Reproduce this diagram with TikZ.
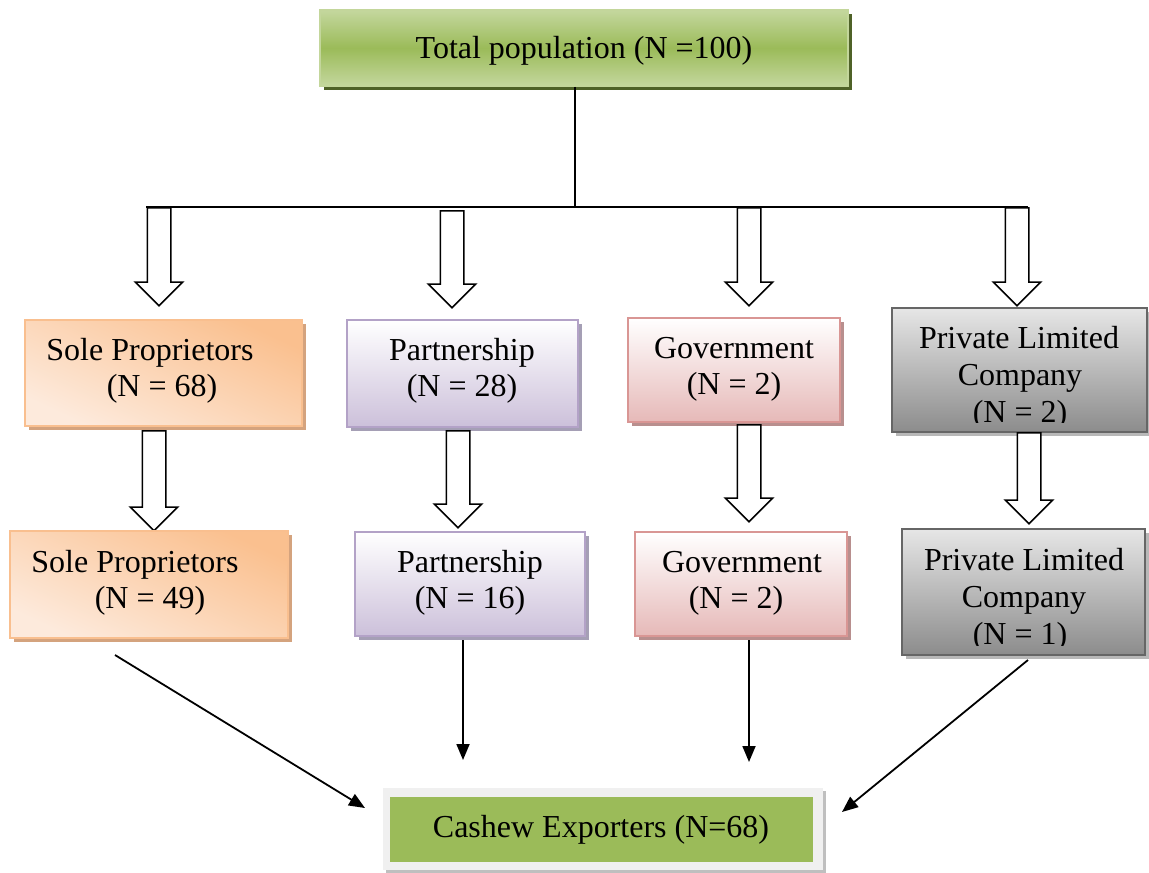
\documentclass[tikz,border=0pt]{standalone}
\usepackage{fontspec}
\setmainfont{Liberation Serif}
\usetikzlibrary{shapes.arrows,arrows.meta,shadows,calc}
\definecolor{orB}{HTML}{F9BF8F}\definecolor{orT}{HTML}{FAC08F}\definecolor{orL}{HTML}{FDEADC}\definecolor{orS}{HTML}{D4A37E}
\definecolor{puB}{HTML}{B3A2C7}\definecolor{puL}{HTML}{CCC0DA}\definecolor{puS}{HTML}{A59FB5}
\definecolor{reB}{HTML}{D99694}\definecolor{reL}{HTML}{E6B9B8}\definecolor{reS}{HTML}{B88F8E}
\definecolor{grB}{HTML}{666666}\definecolor{grT}{HTML}{E6E6E6}\definecolor{grL}{HTML}{8C8C8C}\definecolor{grS}{HTML}{B8B8B8}
\definecolor{gnB}{HTML}{C3D69B}\definecolor{gnM}{HTML}{9BBB59}\definecolor{gnL}{HTML}{C4D79E}\definecolor{gnS}{HTML}{4F6228}
\begin{document}
\begin{tikzpicture}[x=1pt,y=-1pt,
 txt/.style={font=\fontsize{32}{37}\selectfont, inner sep=0pt, anchor=base},
 box/.style={rectangle, line width=1.5pt, inner sep=0pt},
 orbox/.style={box, draw=orB, top color=orT, bottom color=orL, shading angle=-25, drop shadow={shadow xshift=4pt, shadow yshift=-4pt, fill=orS, opacity=1}},
 pubox/.style={box, draw=puB, top color=white, bottom color=puL, drop shadow={shadow xshift=4pt, shadow yshift=-4pt, fill=puS, opacity=1}},
 rebox/.style={box, draw=reB, top color=white, bottom color=reL, drop shadow={shadow xshift=4pt, shadow yshift=-4pt, fill=reS, opacity=1}},
 grbox/.style={box, draw=grB, top color=grT, bottom color=grL, drop shadow={shadow xshift=4pt, shadow yshift=-4pt, fill=grS, opacity=1}},
 blockarrow/.style={single arrow, draw=black, fill=white, line width=1.5pt, shape border rotate=270, inner sep=11pt, single arrow head extend=12pt, single arrow tip angle=90, single arrow head indent=0pt, anchor=tail},
 conn/.style={line width=1.8pt, -{Triangle[length=16pt,width=13pt]}},
 bus/.style={line width=1.8pt},
]
\useasboundingbox (0,0) rectangle (1149,873);

% top box
\node[box, draw=gnB, top color=gnL, bottom color=gnL, middle color=gnM, minimum width=528pt, minimum height=76pt,
      drop shadow={shadow xshift=4pt, shadow yshift=-4pt, fill=gnS, opacity=1}] (T) at (584,48) {};
\node[txt] (Tt) at (584,58) {Total population (N =100)};

% bus
\coordinate (busC) at (575,207);
\coordinate (busL) at (146,207);
\coordinate (busR) at (1028,207);
\draw[bus] (busC |- T.south) -- (busC);
\draw[bus] (busL) -- (busR);

% first-row block arrows
\node[blockarrow, minimum height=98pt] (a1) at (159,207) {};
\node[blockarrow, minimum height=97pt] (a2) at (452,210) {};
\node[blockarrow, minimum height=98pt] (a3) at (749,207) {};
\node[blockarrow, minimum height=98pt] (a4) at (1017,207) {};

% row 1 boxes
\node[orbox, minimum width=277pt, minimum height=106pt] (S1) at (163.5,373) {};
\node[txt] (S1a) at (150,360.5) {Sole Proprietors};
\node[txt] (S1b) at (162,396.5) {(N = 68)};

\node[pubox, minimum width=231pt, minimum height=107pt] (P1) at (462.5,373.5) {};
\node[txt] (P1a) at (462,360) {Partnership};
\node[txt] (P1b) at (462,396) {(N = 28)};

\node[rebox, minimum width=212pt, minimum height=104pt] (G1) at (734,370) {};
\node[txt] (G1a) at (734,358) {Government};
\node[txt] (G1b) at (734,394) {(N = 2)};

\node[grbox, minimum width=255pt, minimum height=124pt] (V1) at (1019.5,370) {};
\begin{scope}
\clip (V1.north west) rectangle ($(V1.south east)+(0,-10)$);
\node[txt] (V1a) at (1019,348) {Private Limited};
\node[txt] (V1b) at (1020,385) {Company};
\node[txt] (V1c) at (1020,422) {(N = 2)};
\end{scope}

% second-row block arrows
\node[blockarrow, minimum height=100pt] (b1) at (154,430) {};
\node[blockarrow, minimum height=97pt] (b2) at (458,430) {};
\node[blockarrow, minimum height=97pt] (b3) at (749,424) {};
\node[blockarrow, minimum height=91pt] (b4) at (1029,432) {};

% row 2 boxes
\node[orbox, minimum width=278pt, minimum height=107pt] (S2) at (149,584.5) {};
\node[txt] (S2a) at (135,572) {Sole Proprietors};
\node[txt] (S2b) at (150,608) {(N = 49)};

\node[pubox, minimum width=230pt, minimum height=104pt] (P2) at (470,584) {};
\node[txt] (P2a) at (470,572) {Partnership};
\node[txt] (P2b) at (470,608) {(N = 16)};

\node[rebox, minimum width=212pt, minimum height=104pt] (G2) at (741,584) {};
\node[txt] (G2a) at (742,572) {Government};
\node[txt] (G2b) at (736,608) {(N = 2)};

\node[grbox, minimum width=243pt, minimum height=126pt] (V2) at (1023.5,592) {};
\begin{scope}
\clip (V2.north west) rectangle ($(V2.south east)+(0,-10)$);
\node[txt] (V2a) at (1024,570) {Private Limited};
\node[txt] (V2b) at (1024,607) {Company};
\node[txt] (V2c) at (1020,644) {(N = 1)};
\end{scope}

% bottom box
\node[rectangle, fill=black!6, minimum width=440pt, minimum height=82pt, inner sep=0pt,
      drop shadow={shadow xshift=3pt, shadow yshift=-3pt, fill=black!25, opacity=1}] (C0) at (603,829) {};
\node[rectangle, fill=gnM, minimum width=423pt, minimum height=65pt, inner sep=0pt] (C) at (601.5,829.5) {};
\node[txt] (Ct) at (601,837) {Cashew Exporters (N=68)};

% connectors
\coordinate (s2o) at (115,655);
\coordinate (p2o) at (463,640);
\coordinate (g2o) at (749,640);
\coordinate (v2o) at (1028,660);
\coordinate (ci1) at (365,808);
\coordinate (ci2) at (463,760);
\coordinate (ci3) at (749,762);
\coordinate (ci4) at (842,812);
\draw[conn] (s2o) -- (ci1);
\draw[conn] (p2o) -- (ci2);
\draw[conn] (g2o) -- (ci3);
\draw[conn] (v2o) -- (ci4);
\end{tikzpicture}
\end{document}
